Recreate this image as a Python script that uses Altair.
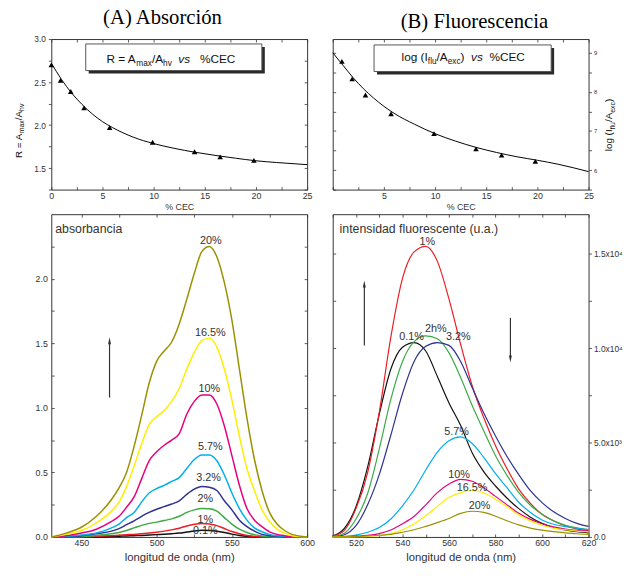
import altair as alt
import pandas as pd

FONT = "Liberation Sans"
SERIF = "Liberation Serif"
AX = "#333333"
TXT = "#333333"

# ---------------- (A) top : R = Amax/Ahv vs %CEC ----------------
CEC_A = [0, 0.9, 1.9, 3.2, 5.7, 9.9, 14.0, 16.5, 19.8]
R_VALS = [2.70, 2.52, 2.39, 2.20, 1.97, 1.80, 1.69, 1.63, 1.59]
FIT_CEC = [0, 1, 2, 3, 4, 5, 6, 8, 10, 12, 14, 16, 18, 20, 22, 25]
R_FIT = [2.72, 2.53, 2.37, 2.24, 2.13, 2.04, 1.97, 1.86, 1.785, 1.73, 1.685,
         1.648, 1.615, 1.585, 1.565, 1.54]

# ---------------- (B) top : log(Iflu/Aexc) vs %CEC ----------------
CEC_B = [0.9, 1.9, 3.2, 5.7, 9.9, 14.0, 16.5, 19.8]
LOG_VALS = [8.78, 8.33, 7.92, 7.44, 6.93, 6.54, 6.38, 6.22]
LOG_FIT = [9.0, 8.68, 8.36, 8.08, 7.84, 7.63, 7.45, 7.17, 6.93, 6.74, 6.58,
           6.45, 6.34, 6.25, 6.15, 5.96]

# ---------------- series ----------------
SERIES = ["0.1%", "1%", "2%", "3.2%", "5.7%", "10%", "16.5%", "20%"]
COLORS = ["#111111", "#ED1C24", "#3BAA46", "#2E3192", "#00AEEF", "#E6007E",
          "#FFEE00", "#9A9100"]

# ---------------- absorption spectra ----------------
WL_ABS = [430, 440, 450, 460, 470, 475, 480, 485, 490, 495, 500, 505, 510, 515,
          520, 525, 530, 535, 540, 545, 550, 555, 560, 565, 570, 575, 580, 585,
          590, 600]
ABS_0_1 = [0, 0, 0, 0, 0.004, 0.006, 0.008, 0.01, 0.012, 0.015, 0.018, 0.021,
           0.025, 0.03, 0.038, 0.046, 0.052, 0.05, 0.044, 0.034, 0.022, 0.012,
           0.005, 0.002, 0, 0, 0, 0, 0, 0]
ABS_1 = [0, 0, 0, 0.005, 0.01, 0.013, 0.017, 0.02, 0.025, 0.03, 0.037, 0.045,
         0.055, 0.068, 0.085, 0.098, 0.105, 0.1, 0.088, 0.065, 0.042, 0.025,
         0.012, 0.005, 0, 0, 0, 0, 0, 0]
ABS_2 = [0, 0, 0.005, 0.012, 0.025, 0.035, 0.05, 0.07, 0.09, 0.105, 0.115,
         0.127, 0.14, 0.16, 0.19, 0.21, 0.22, 0.218, 0.2, 0.15, 0.1, 0.06,
         0.035, 0.018, 0.008, 0.003, 0, 0, 0, 0]
ABS_3_2 = [0, 0, 0.01, 0.025, 0.045, 0.065, 0.095, 0.125, 0.16, 0.19, 0.215,
           0.235, 0.255, 0.28, 0.33, 0.37, 0.39, 0.385, 0.36, 0.28, 0.21, 0.13,
           0.08, 0.045, 0.02, 0.01, 0.005, 0, 0, 0]
ABS_5_7 = [0, 0.005, 0.015, 0.03, 0.07, 0.10, 0.15, 0.19, 0.27, 0.34, 0.375,
           0.40, 0.43, 0.46, 0.53, 0.60, 0.635, 0.635, 0.59, 0.48, 0.34, 0.22,
           0.13, 0.07, 0.04, 0.02, 0.01, 0.005, 0, 0]
ABS_10 = [0, 0.01, 0.03, 0.06, 0.12, 0.16, 0.23, 0.31, 0.45, 0.59, 0.66, 0.71,
          0.75, 0.80, 0.95, 1.05, 1.10, 1.10, 1.03, 0.86, 0.63, 0.40, 0.22,
          0.13, 0.08, 0.04, 0.02, 0.01, 0, 0]
ABS_16_5 = [0, 0.02, 0.05, 0.11, 0.20, 0.27, 0.39, 0.55, 0.72, 0.87, 0.93,
            0.98, 1.05, 1.15, 1.30, 1.43, 1.52, 1.54, 1.47, 1.30, 1.06, 0.78,
            0.53, 0.36, 0.21, 0.12, 0.06, 0.03, 0.01, 0]
ABS_20 = [0, 0.03, 0.075, 0.16, 0.29, 0.38, 0.50, 0.70, 0.94, 1.19, 1.36, 1.44,
          1.51, 1.65, 1.84, 2.04, 2.21, 2.25, 2.17, 1.97, 1.68, 1.30, 0.92,
          0.60, 0.36, 0.19, 0.10, 0.05, 0.02, 0]
ABS_ALL = [ABS_0_1, ABS_1, ABS_2, ABS_3_2, ABS_5_7, ABS_10, ABS_16_5, ABS_20]

ABS_LBL = ["20%", "16.5%", "10%", "5.7%", "3.2%", "2%", "1%", "0.1%"]
ABS_LBL_X = [536, 535.6, 535, 535.6, 534.5, 532.3, 532.3, 532.3]
ABS_LBL_Y = [2.29, 1.58, 1.146, 0.70, 0.46, 0.29, 0.128, 0.045]

ARROW_ABS_X = [468.7]
ARROW_ABS_Y0 = [1.08]
ARROW_ABS_Y1 = [1.52]

# ---------------- fluorescence spectra ----------------
WL_FLU = [510, 515, 520, 525, 530, 535, 540, 545, 550, 555, 560, 565, 570, 575,
          580, 585, 590, 595, 600, 605, 610, 615, 620]
FLU_0_1 = [50, 450, 1600, 3700, 6500, 8900, 10050, 10300, 9850, 8500, 7100,
           5900, 4450, 3450, 2700, 2050, 1500, 1050, 720, 500, 370, 280, 220]
FLU_1 = [30, 350, 1500, 3400, 6600, 10600, 13700, 15100, 15400, 14600, 12600,
         10200, 8000, 6300, 4830, 3600, 2530, 1780, 1200, 850, 600, 430, 340]
FLU_2 = [20, 200, 950, 2300, 4650, 7300, 9300, 10350, 10650, 10500, 9750, 8450,
         6950, 5600, 4300, 3250, 2350, 1680, 1200, 850, 620, 480, 390]
FLU_3_2 = [0, 120, 600, 1700, 3300, 5400, 7600, 9300, 10100, 10300, 10150, 9300,
           7900, 6550, 5350, 4250, 3300, 2450, 1820, 1330, 980, 720, 560]
FLU_5_7 = [0, 30, 100, 250, 500, 950, 1650, 2500, 3550, 4500, 5100, 5300, 4950,
           4200, 3350, 2600, 1840, 1300, 900, 670, 550, 460, 390]
FLU_10 = [0, 10, 40, 80, 180, 370, 700, 1100, 1700, 2350, 2800, 3050, 2950,
          2600, 2150, 1700, 1250, 930, 700, 530, 420, 350, 310]
FLU_16_5 = [0, 0, 10, 30, 70, 180, 380, 700, 1120, 1620, 2100, 2350, 2460, 2330,
            2000, 1600, 1160, 850, 620, 470, 380, 310, 270]
FLU_20 = [0, 0, 20, 50, 90, 140, 250, 380, 560, 760, 980, 1250, 1360, 1300,
          1100, 860, 640, 470, 360, 280, 220, 170, 140]
FLU_ALL = [FLU_0_1, FLU_1, FLU_2, FLU_3_2, FLU_5_7, FLU_10, FLU_16_5, FLU_20]

FLU_LBL = ["1%", "0.1%", "2h%", "3.2%", "5.7%", "10%", "16.5%", "20%"]
FLU_LBL_X = [550.7, 543.9, 554.3, 564.0, 563.2, 564.3, 569.9, 573.1]
FLU_LBL_Y = [15600, 10580, 11040, 10580, 5550, 3300, 2610, 1630]

ARROW_FLU_X = [523.6, 586.4]
ARROW_FLU_Y0 = [10140, 11610]
ARROW_FLU_Y1 = [13400, 9430]
ARROW_FLU_DIR = ["up", "down"]

UP_HEAD = "M0,-1L0.42,1L-0.42,1Z"
DOWN_HEAD = "M0,1L0.42,-1L-0.42,-1Z"

ONE = pd.DataFrame({"k": [0]})

# Arial/Liberation Sans advance widths (1/1000 em), used to chain text pieces
CW = {' ': 278, '%': 889, '(': 333, ')': 333, '/': 278, '=': 584, 'A': 667,
      'C': 722, 'E': 667, 'R': 722, 'I': 278, 'a': 556, 'c': 500, 'e': 556,
      'f': 278, 'g': 556, 'h': 556, 'l': 222, 'm': 833, 'o': 556, 's': 500,
      'u': 556, 'v': 500, 'x': 500}


def tw(s, fs):
    return sum(CW.get(ch, 556) for ch in s) * fs / 1000.0


def rich(pieces, x0, y0, size, sub, angle=0, shift=3.0):
    out = []
    off = 0.0
    for txt, kind in pieces:
        fs = sub if kind == "s" else size
        if kind != "gap":
            props = dict(text=txt, align="left", baseline="alphabetic", font=FONT,
                         fontSize=fs, color="#111111", dx=round(off, 2),
                         dy=shift if kind == "s" else 0)
            if angle:
                props["angle"] = angle
            if kind == "i":
                props["fontStyle"] = "italic"
            out.append(alt.Chart(ONE).mark_text(**props).encode(
                x=alt.value(x0), y=alt.value(y0)))
        off += tw(txt, fs)
    return out


def box(x1, y1, x2, y2):
    sh = alt.Chart(ONE).mark_rect(color="#2a2a2a").encode(
        x=alt.value(x1 + 3), x2=alt.value(x2 + 3),
        y=alt.value(y1 + 3), y2=alt.value(y2 + 3))
    fr = alt.Chart(ONE).mark_rect(fill="white", stroke="#555555", strokeWidth=1).encode(
        x=alt.value(x1), x2=alt.value(x2), y=alt.value(y1), y2=alt.value(y2))
    return [sh, fr]


def axis(orient, values, labels=True, expr=None, fmt=None, title=None,
         inward=True, lsize=9, tsize=11.5, tpad=4, lpad=3):
    a = dict(orient=orient, values=values, domain=False, grid=False, ticks=True,
             tickColor=AX, tickSize=3, tickWidth=0.8, labels=labels,
             labelFont=FONT, labelColor=TXT, labelFontSize=lsize,
             labelPadding=lpad, labelFlush=False, labelOverlap=False,
             labelBound=False)
    if inward:
        a["offset"] = -3
    if expr:
        a["labelExpr"] = expr
    if fmt:
        a["format"] = fmt
    if title:
        a.update(title=title, titleFont=FONT, titleFontSize=tsize,
                 titleFontWeight="normal", titleColor=TXT, titlePadding=tpad)
    else:
        a["title"] = None
    return alt.Axis(**a)


TTL = dict(font=SERIF, fontSize=21, fontWeight="normal", color="black", offset=7)
XT = [0, 2.5, 5, 7.5, 10, 12.5, 15, 17.5, 20, 22.5, 25]
H_TOP = 153
H_BOT = 328

# ================= panel (A) top =================
xs_t = alt.Scale(domain=[0, 25], nice=False, zero=False)
ys_a = alt.Scale(domain=[1.25, 3.0], nice=False, zero=False)
YA = [1.25, 1.5, 1.75, 2.0, 2.25, 2.5, 2.75, 3.0]
df_fit_a = pd.DataFrame({"c": FIT_CEC, "v": R_FIT})
df_pts_a = pd.DataFrame({"c": CEC_A, "v": R_VALS})

fit_a = alt.Chart(df_fit_a).mark_line(color="black", strokeWidth=1,
                                      interpolate="monotone").encode(
    x=alt.X("c:Q", scale=xs_t, axis=axis("bottom", XT, expr="datum.value % 5 == 0 ? datum.label : ''",
                                          fmt="d", title="% CEC", tsize=9, tpad=2, lpad=2)),
    y=alt.Y("v:Q", scale=ys_a, axis=axis("left", YA, expr="datum.value % 0.5 == 0 ? datum.label : ''",
                                          fmt=".1f", lsize=8.5, lpad=3, inward=False)))
pts_a = alt.Chart(df_pts_a).mark_point(shape="triangle-up", filled=True, size=32,
                                       color="black", opacity=1).encode(
    x=alt.X("c:Q", scale=xs_t, axis=None), y=alt.Y("v:Q", scale=ys_a, axis=None))
mir_a = alt.Chart(df_fit_a).mark_point(opacity=0).encode(
    x=alt.X("c:Q", scale=xs_t, axis=axis("top", XT, labels=False)),
    y=alt.Y("v:Q", scale=ys_a, axis=axis("right", YA, labels=False)))
txt_a = rich([("R = A", "n"), ("max", "s"), ("/A", "n"), ("hv", "s"), ("  ", "gap"),
              ("vs", "i"), ("   ", "gap"), ("%CEC", "n")], 56, 24, 12, 8.4)
ytl_a = rich([("R = A", "n"), ("max", "s"), ("/A", "n"), ("hv", "s")], -30, 121, 10, 7,
             angle=270, shift=2.5)
TL = alt.layer(fit_a, pts_a, mir_a, *box(35, 5, 214, 32), *txt_a, *ytl_a).resolve_axis(
    x="independent", y="independent").properties(
    width=260, height=H_TOP, title=alt.Title("(A) Absorción", dx=-17, **TTL))

# ================= panel (B) top =================
ys_b = alt.Scale(domain=[5.5, 9.35], nice=False, zero=False)
YB = [5.5, 6.0, 6.5, 7.0, 7.5, 8.0, 8.5, 9.0]
df_fit_b = pd.DataFrame({"c": FIT_CEC, "v": LOG_FIT})
df_pts_b = pd.DataFrame({"c": CEC_B, "v": LOG_VALS})
fit_b = alt.Chart(df_fit_b).mark_line(color="black", strokeWidth=1,
                                      interpolate="monotone").encode(
    x=alt.X("c:Q", scale=xs_t, axis=axis("bottom", XT,
                                          expr="datum.value % 5 == 0 && datum.value > 0 ? datum.label : ''",
                                          fmt="d", title="% CEC", tsize=9, tpad=2, lpad=2)),
    y=alt.Y("v:Q", scale=ys_b, axis=axis("right", YB,
                                          expr="datum.value % 1 == 0 ? format(datum.value, 'd') : ''",
                                          lsize=6, lpad=2, inward=False)))
pts_b = alt.Chart(df_pts_b).mark_point(shape="triangle-up", filled=True, size=32,
                                       color="black", opacity=1).encode(
    x=alt.X("c:Q", scale=xs_t, axis=None), y=alt.Y("v:Q", scale=ys_b, axis=None))
mir_b = alt.Chart(df_fit_b).mark_point(opacity=0).encode(
    x=alt.X("c:Q", scale=xs_t, axis=axis("top", XT, labels=False)),
    y=alt.Y("v:Q", scale=ys_b, axis=axis("left", YB, labels=False)))
txt_b = rich([("log (I", "n"), ("flu", "s"), ("/A", "n"), ("exc", "s"), (")", "n"),
              ("  ", "gap"), ("vs", "i"), ("  ", "gap"), ("%CEC", "n")], 70, 22, 12, 8.4)
ytl_b = rich([("log (I", "n"), ("flu", "s"), ("/A", "n"), ("exc", "s"), (")", "n")],
             284, 114, 10, 7, angle=270, shift=2.5)
TR = alt.layer(fit_b, pts_b, mir_b, *box(42, 6, 222, 33), *txt_b, *ytl_b).resolve_axis(
    x="independent", y="independent").properties(
    width=260, height=H_TOP, title=alt.Title("(B) Fluorescencia", dx=14, **TTL))

# ================= panel (A) bottom: absorption =================
rows = []
for name, vals in zip(SERIES, ABS_ALL):
    for w, v in zip(WL_ABS, vals):
        rows.append({"wl": w, "a": v, "serie": name})
df_abs = pd.DataFrame(rows)
xs_abs = alt.Scale(domain=[430, 600], nice=False, zero=False)
ys_abs = alt.Scale(domain=[0, 2.5], nice=False, zero=False)
XABS = [450, 475, 500, 525, 550, 575, 600]
YABS = [0, 0.25, 0.5, 0.75, 1.0, 1.25, 1.5, 1.75, 2.0, 2.25]
col_scale = alt.Scale(domain=SERIES, range=COLORS)

lines_abs = alt.Chart(df_abs).mark_line(strokeWidth=1.5, interpolate="monotone").encode(
    x=alt.X("wl:Q", scale=xs_abs, axis=axis("bottom", XABS,
                                             expr="datum.value % 50 == 0 ? datum.label : ''",
                                             fmt="d", title="longitud de onda (nm)", tpad=4,
                                             lpad=2)),
    y=alt.Y("a:Q", scale=ys_abs, axis=axis("left", YABS,
                                            expr="datum.value % 0.5 == 0 ? datum.label : ''",
                                            fmt=".1f", lpad=4)),
    color=alt.Color("serie:N", scale=col_scale, legend=None))
mir_abs = alt.Chart(df_abs).mark_point(opacity=0).encode(
    x=alt.X("wl:Q", scale=xs_abs, axis=axis("top", XABS, labels=False)),
    y=alt.Y("a:Q", scale=ys_abs, axis=axis("right", YABS, labels=False)))
lbl_abs = alt.Chart(pd.DataFrame({"x": ABS_LBL_X, "y": ABS_LBL_Y, "t": ABS_LBL})).mark_text(
    font=FONT, fontSize=11, color=TXT, baseline="middle").encode(
    x=alt.X("x:Q", scale=xs_abs, axis=None), y=alt.Y("y:Q", scale=ys_abs, axis=None),
    text="t:N")
df_arr_a = pd.DataFrame({"x": ARROW_ABS_X, "y0": ARROW_ABS_Y0, "y1": ARROW_ABS_Y1})
arr_a = alt.Chart(df_arr_a).mark_rule(color=AX, strokeWidth=1.2).encode(
    x=alt.X("x:Q", scale=xs_abs, axis=None), y=alt.Y("y0:Q", scale=ys_abs, axis=None),
    y2="y1:Q")
head_a = alt.Chart(df_arr_a).mark_point(shape=UP_HEAD, filled=True, size=49,
                                        color=AX, opacity=1).encode(
    x=alt.X("x:Q", scale=xs_abs, axis=None), y=alt.Y("y1:Q", scale=ys_abs, axis=None))
name_a = alt.Chart(ONE).mark_text(text="absorbancia", font=FONT, fontSize=12.5,
                                  color=TXT, align="left", baseline="alphabetic").encode(
    x=alt.value(4), y=alt.value(19))
BL = alt.layer(lines_abs, mir_abs, lbl_abs, arr_a, head_a, name_a).resolve_axis(
    x="independent", y="independent").properties(width=260, height=H_BOT)

# ================= panel (B) bottom: fluorescence =================
rows = []
for name, vals in zip(SERIES, FLU_ALL):
    for w, v in zip(WL_FLU, vals):
        rows.append({"wl": w, "f": v, "serie": name})
df_flu = pd.DataFrame(rows)
xs_flu = alt.Scale(domain=[510, 620], nice=False, zero=False)
ys_flu = alt.Scale(domain=[0, 17100], nice=False, zero=False)
XFLU = [510, 520, 530, 540, 550, 560, 570, 580, 590, 600, 610, 620]
YFLU = [0, 2500, 5000, 7500, 10000, 12500, 15000]
YFLU_EXPR = ("datum.value == 0 ? '0.0' : datum.value == 5000 ? '5.0x10³' : "
             "datum.value == 10000 ? '1.0x10⁴' : datum.value == 15000 ? '1.5x10⁴' : ''")

lines_flu = alt.Chart(df_flu).mark_line(strokeWidth=1.2, interpolate="monotone").encode(
    x=alt.X("wl:Q", scale=xs_flu, axis=axis("bottom", XFLU,
                                             expr="datum.value % 20 == 0 ? datum.label : ''",
                                             fmt="d", title="longitud de onda (nm)", tpad=4,
                                             lpad=2)),
    y=alt.Y("f:Q", scale=ys_flu, axis=axis("right", YFLU, expr=YFLU_EXPR, inward=False,
                                            lpad=2, lsize=8.5)),
    color=alt.Color("serie:N", scale=col_scale, legend=None))
mir_flu = alt.Chart(df_flu).mark_point(opacity=0).encode(
    x=alt.X("wl:Q", scale=xs_flu, axis=axis("top", XFLU, labels=False)),
    y=alt.Y("f:Q", scale=ys_flu, axis=axis("left", YFLU, labels=False)))
lbl_flu = alt.Chart(pd.DataFrame({"x": FLU_LBL_X, "y": FLU_LBL_Y, "t": FLU_LBL})).mark_text(
    font=FONT, fontSize=11, color=TXT, baseline="middle").encode(
    x=alt.X("x:Q", scale=xs_flu, axis=None), y=alt.Y("y:Q", scale=ys_flu, axis=None),
    text="t:N")
df_arr_f = pd.DataFrame({"x": ARROW_FLU_X, "y0": ARROW_FLU_Y0, "y1": ARROW_FLU_Y1,
                         "d": ARROW_FLU_DIR})
arr_f = alt.Chart(df_arr_f).mark_rule(color=AX, strokeWidth=1.2).encode(
    x=alt.X("x:Q", scale=xs_flu, axis=None), y=alt.Y("y0:Q", scale=ys_flu, axis=None),
    y2="y1:Q")
head_up = alt.Chart(df_arr_f).transform_filter("datum.d == 'up'").mark_point(
    shape=UP_HEAD, filled=True, size=49, color=AX, opacity=1).encode(
    x=alt.X("x:Q", scale=xs_flu, axis=None), y=alt.Y("y1:Q", scale=ys_flu, axis=None))
head_dn = alt.Chart(df_arr_f).transform_filter("datum.d == 'down'").mark_point(
    shape=DOWN_HEAD, filled=True, size=49, color=AX, opacity=1).encode(
    x=alt.X("x:Q", scale=xs_flu, axis=None), y=alt.Y("y1:Q", scale=ys_flu, axis=None))
name_f = alt.Chart(ONE).mark_text(text="intensidad fluorescente (u.a.)", font=FONT,
                                  fontSize=12.5, color=TXT, align="left",
                                  baseline="alphabetic").encode(
    x=alt.value(7), y=alt.value(19))
BR = alt.layer(lines_flu, mir_flu, lbl_flu, arr_f, head_up, head_dn, name_f).resolve_axis(
    x="independent", y="independent").properties(width=260, height=H_BOT)

chart = alt.concat(TL, TR, BL, BR, columns=2, spacing={"row": 25, "column": 26},
                   bounds="flush", align="each").properties(
    padding={"left": 5, "top": -6, "right": 0, "bottom": 0},
    background="white").configure_view(stroke=AX, strokeWidth=1)

chart.save("out.html", embed_options={"renderer": "svg", "actions": False})
